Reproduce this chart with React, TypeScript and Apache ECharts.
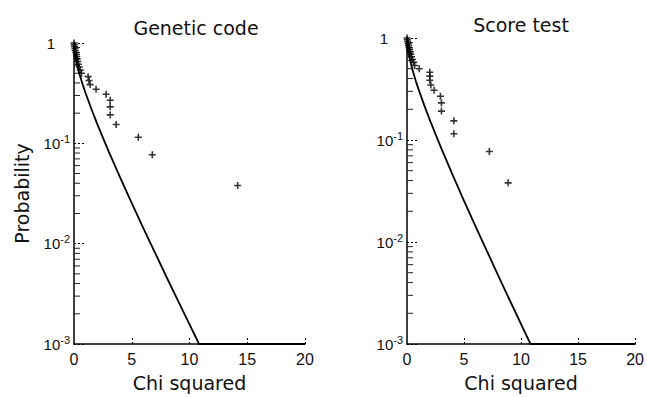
import React, { useEffect, useRef } from "react";
import * as echarts from "echarts";

// ---- Data ----
// Observed values (chi squared, probability) for the "Genetic code" panel
const geneticChi = [0.0, 0.02, 0.05, 0.08, 0.1, 0.15, 0.2, 0.24, 0.28, 0.33, 0.38, 0.45, 0.55, 0.65, 1.22, 1.3, 1.39, 1.91, 2.78, 3.13, 3.13, 3.13, 3.65, 5.57, 6.78, 14.17];
const geneticProb = [1.0, 0.962, 0.923, 0.885, 0.846, 0.808, 0.769, 0.731, 0.692, 0.654, 0.615, 0.577, 0.538, 0.5, 0.462, 0.423, 0.385, 0.346, 0.308, 0.269, 0.231, 0.192, 0.154, 0.115, 0.077, 0.038];

// Observed values for the "Score test" panel
const scoreChi = [0.0, 0.03, 0.06, 0.1, 0.13, 0.18, 0.22, 0.28, 0.33, 0.4, 0.48, 0.58, 0.67, 1.07, 2.0, 2.0, 2.0, 2.09, 2.37, 2.93, 3.02, 3.02, 4.11, 4.11, 7.22, 8.87];
const scoreProb = [1.0, 0.962, 0.923, 0.885, 0.846, 0.808, 0.769, 0.731, 0.692, 0.654, 0.615, 0.577, 0.538, 0.5, 0.462, 0.423, 0.385, 0.346, 0.308, 0.269, 0.231, 0.192, 0.154, 0.115, 0.077, 0.038];

// Reference curve (same in both panels)
const curveChi = [0, 0.05, 0.1, 0.2, 0.3, 0.5, 0.75, 1, 1.5, 2, 2.5, 3, 4, 5, 6, 7, 8, 9, 10, 10.83, 20];
const curveProb = [1, 0.82, 0.75, 0.655, 0.584, 0.48, 0.386, 0.317, 0.221, 0.157, 0.114, 0.0833, 0.0455, 0.0253, 0.0143, 0.0082, 0.00468, 0.0027, 0.00157, 0.001, 0.001];

// Axis ticks
const xTickValues = [0, 5, 10, 15, 20];
const yTickValues = [1, 0.1, 0.01, 0.001];
const yTickLabels = ["1", "10^-1", "10^-2", "10^-3"];
const yMinorTicks = [
  0.002, 0.003, 0.004, 0.005, 0.006, 0.007, 0.008, 0.009,
  0.02, 0.03, 0.04, 0.05, 0.06, 0.07, 0.08, 0.09,
  0.2, 0.3, 0.4, 0.5, 0.6, 0.7, 0.8, 0.9,
];

const panelTitles = ["Genetic code", "Score test"];

const NUM_FONT = "Liberation Sans";
const TXT_FONT = "DejaVu Sans";
const PLUS = "path://M-0.9,-4H0.9V-0.9H4V0.9H0.9V4H-0.9V0.9H-4V-0.9H-0.9Z";

function zip(a: number[], b: number[]) {
  return a.map((v, i) => [v, b[i]]);
}

function yFormatter(v: number) {
  const idx = yTickValues.findIndex((t) => Math.abs(t - v) < v * 1e-6);
  const lab = idx >= 0 ? yTickLabels[idx] : "";
  if (lab === "1") return "{b|1}{g|}";
  const parts = lab.split("^");
  return `{b|${parts[0]}}{s|${parts[1] || ""}}`;
}

export default function App() {
  const ref = useRef<HTMLDivElement>(null);
  useEffect(() => {
    if (!ref.current) return;
    const chart = echarts.init(ref.current, undefined, { renderer: "svg" });

    const grids = [
      { left: 74, top: 43, width: 231, height: 305 },
      { left: 407, top: 38, width: 230, height: 309 },
    ];

    const xAxes = grids.map((_, i) => ({
      gridIndex: i,
      type: "value",
      min: 0,
      max: 20,
      interval: 5,
      axisLine: { show: true, lineStyle: { color: "#000", width: 1.5 } },
      axisTick: {
        show: true,
        inside: true,
        length: 8,
        customValues: xTickValues.slice(1),
        lineStyle: { color: "#000", width: 1, type: [2, 2] },
      },
      axisLabel: {
        fontFamily: NUM_FONT,
        fontSize: 16,
        color: "#111",
        margin: 7,
        customValues: xTickValues,
      },
      splitLine: { show: false },
      name: "Chi squared",
      nameLocation: "middle",
      nameGap: 29,
      nameTextStyle: { fontFamily: TXT_FONT, fontSize: 19, color: "#111" },
    }));

    const yAxes = grids.map((_, i) => ({
      gridIndex: i,
      type: "log",
      logBase: 10,
      min: 0.001,
      max: 1,
      axisLine: { show: true, lineStyle: { color: "#000", width: 1.5 } },
      axisTick: {
        show: true,
        inside: true,
        length: 10,
        lineStyle: { color: "#000", width: 1, type: [2, 2] },
      },
      axisLabel: {
        margin: 4,
        formatter: yFormatter,
        rich: {
          b: { fontFamily: NUM_FONT, fontSize: 15, color: "#111" },
          s: { fontFamily: NUM_FONT, fontSize: 11, color: "#111", padding: [0, 0, 9, 0] },
          g: { width: 15 },
        },
      },
      splitLine: { show: false },
      ...(i === 0
        ? {
            name: "Probability",
            nameLocation: "middle",
            nameGap: 43,
            nameRotate: 90,
            nameTextStyle: { fontFamily: TXT_FONT, fontSize: 19, color: "#111" },
          }
        : {}),
    }));

    const panels = [
      { chi: geneticChi, prob: geneticProb },
      { chi: scoreChi, prob: scoreProb },
    ];

    const series: any[] = [];
    panels.forEach((p, i) => {
      series.push({
        type: "custom",
        xAxisIndex: i,
        yAxisIndex: i,
        clip: false,
        silent: true,
        data: yMinorTicks.map((v) => [0, v]),
        renderItem: (_params: any, api: any) => {
          const pt = api.coord([api.value(0), api.value(1)]);
          return {
            type: "line",
            shape: { x1: pt[0], y1: pt[1], x2: pt[0] + 6, y2: pt[1] },
            style: { stroke: "#222", lineWidth: 1 },
          };
        },
      });
      series.push({
        type: "line",
        xAxisIndex: i,
        yAxisIndex: i,
        data: zip(curveChi, curveProb),
        showSymbol: false,
        smooth: false,
        lineStyle: { color: "#000", width: 1.8 },
        silent: true,
      });
      series.push({
        type: "scatter",
        xAxisIndex: i,
        yAxisIndex: i,
        data: zip(p.chi, p.prob),
        symbol: PLUS,
        symbolSize: 7,
        itemStyle: { color: "#000" },
        silent: true,
      });
    });

    chart.setOption({
      animation: false,
      backgroundColor: "#fff",
      grid: grids,
      xAxis: xAxes,
      yAxis: yAxes,
      series,
      graphic: [
        {
          type: "text",
          x: 196,
          y: 28,
          style: {
            text: panelTitles[0],
            font: `19px "${TXT_FONT}"`,
            fill: "#111",
            align: "center",
            verticalAlign: "middle",
          },
        },
        {
          type: "text",
          x: 521,
          y: 25,
          style: {
            text: panelTitles[1],
            font: `19px "${TXT_FONT}"`,
            fill: "#111",
            align: "center",
            verticalAlign: "middle",
          },
        },
      ],
    });
    return () => chart.dispose();
  }, []);

  return (
    <div
      ref={ref}
      style={{ position: "fixed", left: 0, top: 0, width: 647, height: 397, background: "#fff" }}
    />
  );
}
